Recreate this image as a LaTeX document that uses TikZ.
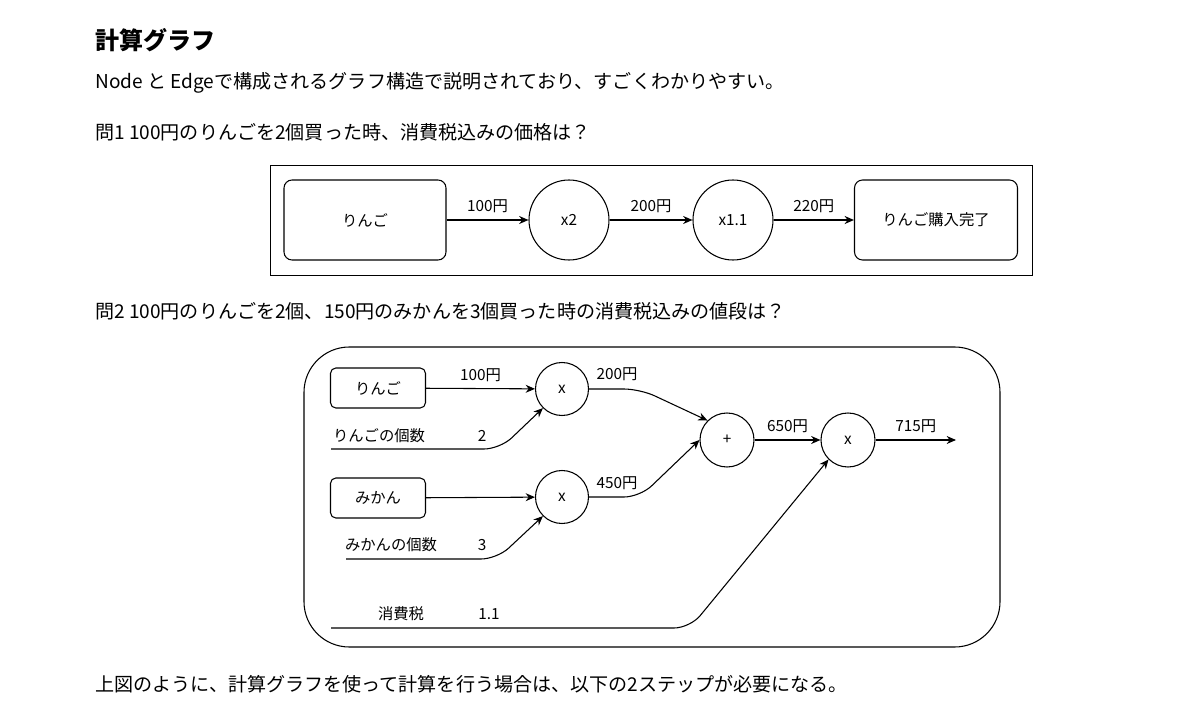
\documentclass[tikz,border=0pt]{standalone}
\usepackage{fontspec}
\setmainfont{Noto Sans CJK JP}
\usetikzlibrary{arrows.meta}
\begin{document}
\begin{tikzpicture}[x=0.75pt,y=-0.75pt,
  body/.style={anchor=west,inner sep=0,font=\fontsize{14.3}{16}\selectfont},
  lab/.style={inner sep=0,font=\fontsize{11.5}{13}\selectfont},
  box/.style={draw,rounded corners=6pt,line width=0.8pt,font=\fontsize{11.5}{13}\selectfont},
  circ/.style={draw,circle,line width=0.8pt,font=\fontsize{11.5}{13}\selectfont,inner sep=0},
  arr/.style={line width=0.8pt,-{Stealth[length=7pt,width=6pt]}},
  ln/.style={line width=0.8pt}]
\useasboundingbox (0,0) rectangle (1200,710);
\node[body,font=\fontsize{18}{20}\selectfont\bfseries] (title) at (95,40) {計算グラフ};
\node[body] (t1) at (95,83) {Node と Edgeで構成されるグラフ構造で説明されており、すごくわかりやすい。};
\node[body] (t2) at (95,132) {問1 100円のりんごを2個買った時、消費税込みの価格は？};
\node[body] (t3) at (95,311) {問2 100円のりんごを2個、150円のみかんを3個買った時の消費税込みの値段は？};
\node[body] (t4) at (95,684) {上図のように、計算グラフを使って計算を行う場合は、以下の2ステップが必要になる。};
% diagram 1
\draw[line width=0.75pt] (270,165) rectangle (1032,275);
\node[box,minimum width=162*0.75pt,minimum height=80*0.75pt] (a) at (365,220) {りんご};
\node[circ,minimum size=80*0.75pt] (m1) at (569,220) {x2};
\node[circ,minimum size=80*0.75pt] (m2) at (733,220) {x1.1};
\node[box,minimum width=163*0.75pt,minimum height=80*0.75pt] (b) at (936,220) {りんご購入完了};
\draw[arr] (a) -- node[lab,above=5pt]{100円} (m1);
\draw[arr] (m1) -- node[lab,above=5pt]{200円} (m2);
\draw[arr,line width=1.4pt] (m2) -- node[lab,above=5pt]{220円} (b);
% diagram 2
\draw[line width=0.8pt,rounded corners=34pt] (304,347) rectangle (1000,647);
\node[box,rounded corners=4pt,minimum width=95*0.75pt,minimum height=40*0.75pt] (ap) at (378,388) {りんご};
\node[box,rounded corners=4pt,minimum width=95*0.75pt,minimum height=40*0.75pt] (mk) at (378,498) {みかん};
\node[circ,minimum size=53*0.75pt] (x1) at (562,389) {x};
\node[circ,minimum size=53*0.75pt] (x2) at (562,497) {x};
\node[circ,minimum size=54*0.75pt] (pl) at (727,440) {+};
\node[circ,minimum size=54*0.75pt] (x3) at (848,440) {x};
\coordinate (s1) at (331,449); \coordinate (s2) at (346,559); \coordinate (s3) at (331,628);
\coordinate (e) at (956,440);
\node[lab] (l1) at (379,436) {りんごの個数}; \node[lab] (n1) at (482,436) {2};
\node[lab] (l2) at (391,545) {みかんの個数}; \node[lab] (n2) at (482,545) {3};
\node[lab] (l3) at (401,614) {消費税}; \node[lab] (n3) at (489,614) {1.1};
\draw[arr] (ap) -- node[lab,above=5pt]{100円} (x1);
\draw[arr] (mk) -- (x2);
\draw[arr,rounded corners=12pt] (s1) -- (500,449) -- (x1.south west);
\draw[arr,rounded corners=12pt] (s2) -- (497,559) -- (x2.south west);
\draw[arr,rounded corners=12pt] (x1.east) -- (640,389) -- (pl.north west);
\draw[arr,rounded corners=12pt] (x2.east) -- (640,497) -- (pl.west);
\node[lab] at (617,374) {200円};
\node[lab] at (617,483) {450円};
\draw[arr] (pl) -- node[lab,above=5pt]{650円} (x3);
\draw[arr,rounded corners=12pt] (s3) -- (690,628) -- (x3.south west);
\draw[arr] (x3) -- node[lab,above=5pt]{715円} (e);
\end{tikzpicture}
\end{document}
